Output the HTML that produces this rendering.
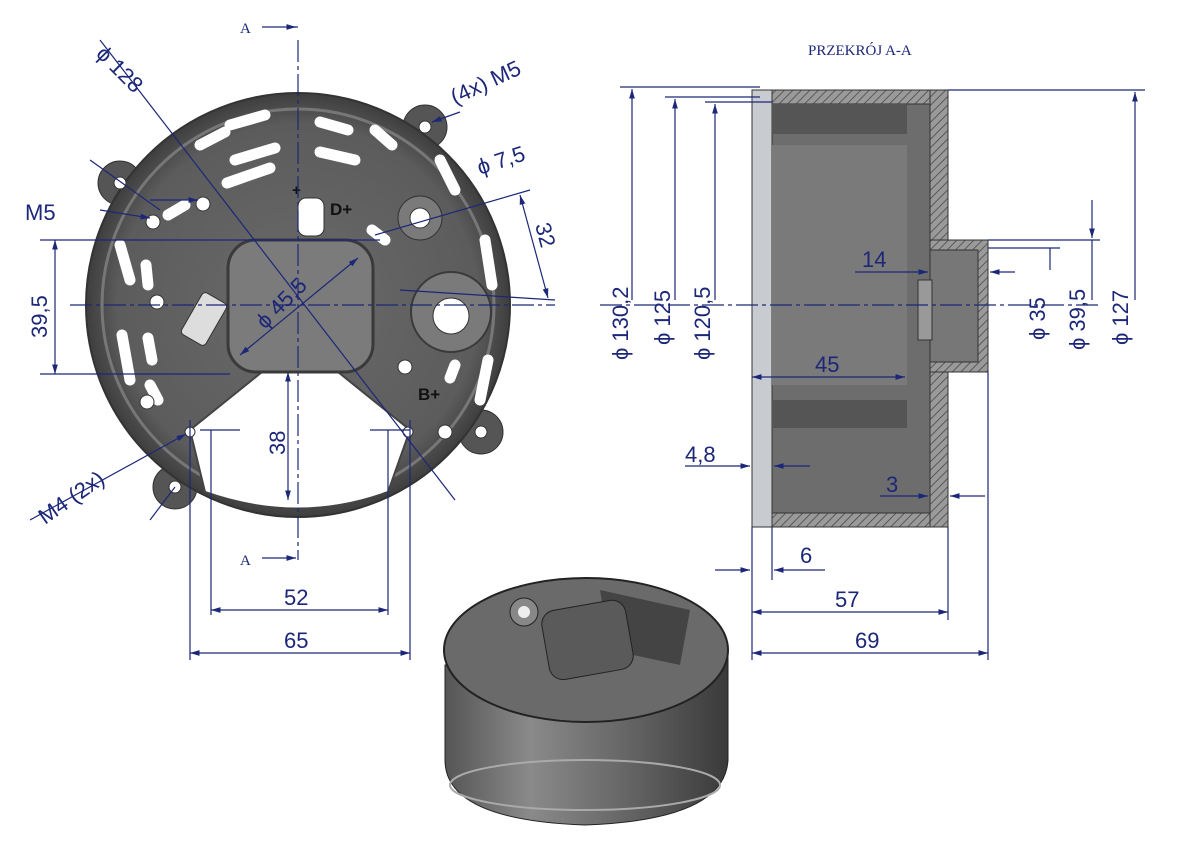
<!DOCTYPE html>
<html><head><meta charset="utf-8"><style>
html,body{margin:0;padding:0;background:#fff;}
svg{display:block;}
text{font-family:"Liberation Sans",sans-serif;fill:#1c2778;}
</style></head><body>
<svg width="1190" height="841" viewBox="0 0 1190 841" xmlns="http://www.w3.org/2000/svg">
<defs>
<radialGradient id="bg" cx="0.5" cy="0.5" r="0.5">
<stop offset="0" stop-color="#6a6a6a"/><stop offset="0.85" stop-color="#5c5c5c"/><stop offset="1" stop-color="#3e3e3e"/></radialGradient>
<linearGradient id="cyl" x1="0" x2="1" y1="0" y2="0">
<stop offset="0" stop-color="#555"/><stop offset="0.3" stop-color="#8a8a8a"/><stop offset="0.6" stop-color="#6a6a6a"/><stop offset="1" stop-color="#3a3a3a"/></linearGradient>
<pattern id="hatch" width="6" height="6" patternUnits="userSpaceOnUse" patternTransform="rotate(45)">
<rect width="6" height="6" fill="#9a9a9a"/><line x1="0" y1="0" x2="0" y2="6" stroke="#444" stroke-width="1.5"/></pattern>
<marker id="ar" viewBox="0 0 10 10" refX="10" refY="5" markerWidth="8" markerHeight="8" orient="auto-start-reverse"><path d="M0 2 L10 5 L0 8 Z" fill="#1c2778"/></marker>
</defs>

<!-- FRONT VIEW -->
<g>
<circle cx="120" cy="183" r="22" fill="#555" stroke="#333"/>
<circle cx="425" cy="127" r="22" fill="#555" stroke="#333"/>
<circle cx="481" cy="432" r="22" fill="#555" stroke="#333"/>
<circle cx="175" cy="487" r="22" fill="#555" stroke="#333"/>
<circle cx="298" cy="305" r="212" fill="url(#bg)" stroke="#333" stroke-width="2"/>
<circle cx="298" cy="305" r="196" fill="none" stroke="#777" stroke-width="3"/>
<path d="M262 372 L338 372 L410 430 L388 492 Q298 525 205 492 L190 430 Z" fill="#fff" stroke="#444" stroke-width="2"/>
<rect x="228" y="240" width="145" height="132" rx="28" fill="#7b7b7b" stroke="#3a3a3a" stroke-width="3"/>
<circle cx="451" cy="312" r="40" fill="#7a7a7a" stroke="#3a3a3a" stroke-width="2"/>
<circle cx="451" cy="316" r="18" fill="#fff" stroke="#333"/>
<circle cx="420" cy="218" r="22" fill="#7a7a7a" stroke="#333"/>
<circle cx="420" cy="218" r="10" fill="#fff" stroke="#333"/>
<rect x="298" y="198" width="26" height="38" rx="8" fill="#fff" stroke="#333"/>
<text x="330" y="215" style="fill:#111;font-weight:bold;font-size:17px">D+</text>
<text x="292" y="195" style="fill:#111;font-weight:bold;font-size:15px">+</text>
<text x="418" y="400" style="fill:#111;font-weight:bold;font-size:17px">B+</text>
<g stroke="#fff" stroke-width="11" stroke-linecap="round" fill="none">
<path d="M230 125 L265 115"/><path d="M200 145 L225 132"/><path d="M235 160 L275 148"/><path d="M227 183 L270 168"/>
<path d="M320 122 L348 130"/><path d="M320 152 L355 160"/><path d="M375 130 L392 145"/>
<path d="M168 215 L185 205"/><path d="M120 245 L130 280"/><path d="M146 265 L148 285"/>
<path d="M122 335 L130 380"/><path d="M148 338 L152 360"/><path d="M150 385 L158 400"/>
<path d="M440 160 L455 190"/><path d="M485 240 L492 285"/><path d="M488 360 L480 400"/><path d="M455 365 L450 378"/>
<path d="M372 230 L385 240"/>
</g>
<rect x="190" y="295" width="28" height="48" rx="4" fill="#ddd" stroke="#333" transform="rotate(30 204 319)"/>
<g fill="#fff" stroke="#333">
<circle cx="120" cy="183" r="6"/><circle cx="425" cy="127" r="6"/><circle cx="481" cy="432" r="6"/><circle cx="175" cy="487" r="6"/>
<circle cx="203" cy="204" r="7"/><circle cx="157" cy="302" r="7"/><circle cx="153" cy="222" r="7"/><circle cx="147" cy="402" r="7"/>
<circle cx="190" cy="432" r="5"/><circle cx="408" cy="432" r="5"/><circle cx="445" cy="432" r="7"/><circle cx="405" cy="367" r="7"/>
</g>
</g>

<g stroke="#1c2778" stroke-width="1.2" fill="none">
<line x1="298" y1="40" x2="298" y2="560" stroke-dasharray="22 4 4 4"/>
<line x1="70" y1="305" x2="555" y2="305" stroke-dasharray="22 4 4 4"/>
<line x1="262" y1="27" x2="296" y2="27" marker-end="url(#ar)"/><line x1="262" y1="558" x2="296" y2="558" marker-end="url(#ar)"/>
<line x1="290" y1="27" x2="298" y2="27"/>
<line x1="100" y1="40" x2="455" y2="500"/>
<line x1="240" y1="355" x2="358" y2="258" marker-start="url(#ar)" marker-end="url(#ar)"/>
<line x1="40" y1="240" x2="380" y2="240"/><line x1="40" y1="374" x2="230" y2="374"/>
<line x1="55" y1="240" x2="55" y2="374" marker-start="url(#ar)" marker-end="url(#ar)"/>
<line x1="375" y1="235" x2="530" y2="190"/><line x1="400" y1="290" x2="555" y2="300"/>
<line x1="520" y1="195" x2="548" y2="298" marker-start="url(#ar)" marker-end="url(#ar)"/>
<line x1="460" y1="112" x2="432" y2="122" marker-end="url(#ar)"/>
<line x1="100" y1="210" x2="150" y2="218" marker-end="url(#ar)"/><line x1="150" y1="200" x2="198" y2="200" marker-end="url(#ar)"/>
<line x1="90" y1="160" x2="160" y2="210"/>
<line x1="190" y1="420" x2="190" y2="660"/><line x1="410" y1="420" x2="410" y2="660"/>
<line x1="211" y1="430" x2="211" y2="615"/><line x1="388" y1="430" x2="388" y2="615"/>
<line x1="190" y1="653" x2="410" y2="653" marker-start="url(#ar)" marker-end="url(#ar)"/><line x1="211" y1="610" x2="388" y2="610" marker-start="url(#ar)" marker-end="url(#ar)"/>
<line x1="288" y1="372" x2="288" y2="500" marker-start="url(#ar)" marker-end="url(#ar)"/>
<line x1="200" y1="430" x2="240" y2="430"/><line x1="370" y1="430" x2="410" y2="430"/>
<line x1="30" y1="520" x2="186" y2="434" marker-end="url(#ar)"/>
<line x1="150" y1="520" x2="175" y2="487"/>
</g>
<g font-size="22">
<text x="95" y="55" transform="rotate(45 95 55)">ϕ 128</text>
<text x="455" y="105" transform="rotate(-25 455 105)">(4x) M5</text>
<text x="480" y="175" transform="rotate(-18 480 175)">ϕ 7,5</text>
<text x="25" y="220">M5</text>
<text x="47" y="338" transform="rotate(-90 47 338)">39,5</text>
<text x="265" y="330" transform="rotate(-45 265 330)">ϕ 45,5</text>
<text x="535" y="225" transform="rotate(75 535 225)">32</text>
<text x="285" y="455" transform="rotate(-90 285 455)">38</text>
<text x="45" y="525" transform="rotate(-35 45 525)">M4 (2x)</text>
<text x="284" y="605">52</text><text x="284" y="648">65</text>
<text x="240" y="33" font-size="15" style="font-family:'Liberation Serif',serif">A</text>
<text x="240" y="565" font-size="15" style="font-family:'Liberation Serif',serif">A</text>
<text x="808" y="55" font-size="15" style="font-family:'Liberation Serif',serif">PRZEKRÓJ A-A</text>
</g>

<!-- SECTION VIEW -->
<g>
<rect x="752" y="90" width="196" height="437" fill="#6d6d6d" stroke="#333"/>
<rect x="752" y="90" width="20" height="437" fill="#c8ccd0" stroke="#333"/>
<rect x="772" y="90" width="176" height="14" fill="url(#hatch)" stroke="#333"/>
<rect x="772" y="513" width="176" height="14" fill="url(#hatch)" stroke="#333"/>
<rect x="930" y="90" width="18" height="150" fill="url(#hatch)" stroke="#333"/>
<rect x="930" y="370" width="18" height="157" fill="url(#hatch)" stroke="#333"/>
<rect x="930" y="240" width="58" height="132" fill="url(#hatch)" stroke="#333"/>
<rect x="930" y="250" width="48" height="112" fill="#777" stroke="#333"/>
<rect x="772" y="104" width="135" height="30" fill="#555"/>
<rect x="772" y="400" width="135" height="28" fill="#555"/>
<rect x="772" y="145" width="135" height="240" fill="#7a7a7a"/>
<rect x="918" y="280" width="14" height="60" fill="#999" stroke="#333"/>
</g>
<g stroke="#1c2778" stroke-width="1.2" fill="none">
<line x1="600" y1="305" x2="1100" y2="305" stroke-dasharray="22 4 4 4"/>
<line x1="620" y1="87" x2="760" y2="87"/><line x1="665" y1="97" x2="760" y2="97"/><line x1="705" y1="102" x2="772" y2="102"/>
<line x1="632" y1="300" x2="632" y2="89" marker-end="url(#ar)"/><line x1="675" y1="300" x2="675" y2="99" marker-end="url(#ar)"/><line x1="715" y1="300" x2="715" y2="104" marker-end="url(#ar)"/>
<line x1="948" y1="90" x2="1145" y2="90"/><line x1="1135" y1="300" x2="1135" y2="92" marker-end="url(#ar)"/>
<line x1="988" y1="240" x2="1100" y2="240"/><line x1="1092" y1="200" x2="1092" y2="238" marker-end="url(#ar)"/><line x1="1092" y1="240" x2="1092" y2="300"/>
<line x1="988" y1="248" x2="1060" y2="248"/><line x1="1050" y1="248" x2="1050" y2="270"/>
<line x1="855" y1="272" x2="928" y2="272" marker-end="url(#ar)"/><line x1="1015" y1="272" x2="990" y2="272" marker-end="url(#ar)"/>
<line x1="752" y1="377" x2="905" y2="377" marker-start="url(#ar)" marker-end="url(#ar)"/>
<line x1="685" y1="466" x2="750" y2="466" marker-end="url(#ar)"/><line x1="810" y1="466" x2="774" y2="466" marker-end="url(#ar)"/>
<line x1="880" y1="496" x2="928" y2="496" marker-end="url(#ar)"/><line x1="985" y1="496" x2="950" y2="496" marker-end="url(#ar)"/>
<line x1="715" y1="570" x2="750" y2="570" marker-end="url(#ar)"/><line x1="825" y1="570" x2="774" y2="570" marker-end="url(#ar)"/>
<line x1="752" y1="527" x2="752" y2="660"/><line x1="772" y1="527" x2="772" y2="580"/>
<line x1="948" y1="527" x2="948" y2="620"/><line x1="988" y1="372" x2="988" y2="660"/>
<line x1="752" y1="612" x2="948" y2="612" marker-start="url(#ar)" marker-end="url(#ar)"/><line x1="752" y1="653" x2="988" y2="653" marker-start="url(#ar)" marker-end="url(#ar)"/>
</g>
<g font-size="22">
<text x="628" y="360" transform="rotate(-90 628 360)">ϕ 130,2</text>
<text x="670" y="345" transform="rotate(-90 670 345)">ϕ 125</text>
<text x="710" y="360" transform="rotate(-90 710 360)">ϕ 120,5</text>
<text x="1045" y="340" transform="rotate(-90 1045 340)">ϕ 35</text>
<text x="1085" y="350" transform="rotate(-90 1085 350)">ϕ 39,5</text>
<text x="1128" y="345" transform="rotate(-90 1128 345)">ϕ 127</text>
<text x="862" y="267">14</text><text x="815" y="372">45</text>
<text x="685" y="462">4,8</text><text x="886" y="492">3</text>
<text x="800" y="563">6</text><text x="835" y="607">57</text><text x="855" y="648">69</text>
</g>

<!-- 3D VIEW -->
<g>
<path d="M445 665 L445 760 Q445 820 585 825 Q725 820 728 760 L728 650 Z" fill="url(#cyl)" stroke="#222"/>
<ellipse cx="585" cy="785" rx="135" ry="25" fill="none" stroke="#aaa" stroke-width="2"/>
<ellipse cx="586" cy="650" rx="142" ry="72" fill="#6a6a6a" stroke="#222" stroke-width="2"/>
<path d="M600 590 L690 610 L680 665 L610 650 Z" fill="#444"/>
<rect x="545" y="605" width="85" height="70" rx="14" fill="#5a5a5a" stroke="#222" transform="rotate(-10 587 640)"/>
<circle cx="524" cy="612" r="14" fill="#888" stroke="#222"/>
<circle cx="524" cy="612" r="6" fill="#eee"/>
</g>
</svg>
</body></html>
